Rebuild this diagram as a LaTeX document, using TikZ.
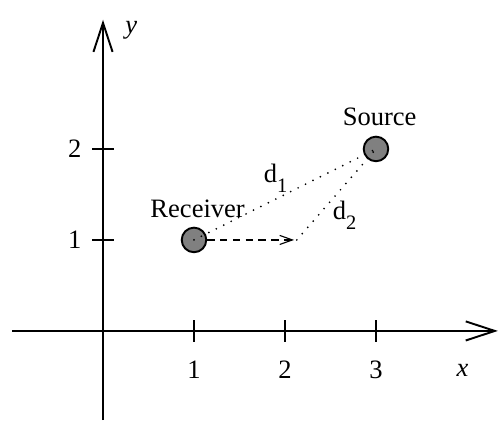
\documentclass[tikz,border=0pt]{standalone}
\usepackage{fontspec}
\setmainfont{Liberation Serif}
\usetikzlibrary{arrows.meta}
\tikzset{
  axis/.style={line width=0.6pt, -{Straight Barb[length=3.2mm,width=2.1mm]}},
  station/.style={circle, draw, line width=0.6pt, fill=black!50, minimum size=0.27cm, inner sep=0pt},
  dotline/.style={line width=0.6pt, line cap=round, dash pattern=on 0pt off 2.6pt},
  dasharrow/.style={line width=0.35pt, dash pattern=on 2.3pt off 1.7pt, -{Straight Barb[length=1.4mm,width=1mm]}},
  lbl/.style={inner sep=0pt, font=\fontsize{8.3}{10}\selectfont}
}
\newcommand{\sub}[1]{\raisebox{-3.1pt}{\fontsize{6.4}{7}\selectfont #1}}
\begin{document}
\begin{tikzpicture}
  \useasboundingbox (-1.132,-0.989) rectangle (4.352,3.637);
  \coordinate (xs) at (-1,0);
  \coordinate (xe) at (4.34,0);
  \coordinate (ys) at (0,-0.98);
  \coordinate (ye) at (0,3.42);
  \draw[axis] (xs) -- (xe);
  \draw[axis] (ys) -- (ye);
  \foreach \i in {1,2,3}
    \draw[line width=0.6pt] (\i,-0.12) -- (\i,0.12) node[lbl, anchor=center] at (\i,-0.43) {\i};
  \foreach \j in {1,2}
    \draw[line width=0.6pt] (-0.12,\j) -- (0.12,\j) node[lbl, anchor=center] at (-0.31,\j) {\j};
  \node[lbl] (xlbl) at (3.95,-0.43) {\textit{x}};
  \node[lbl] (ylbl) at (0.31,3.30) {\textit{y}};

  \node[station] (rcv) at (1,1) {};
  \node[station] (src) at (3,2) {};
  \node[lbl] (rcvlbl) at (1.04,1.34) {Receiver};
  \node[lbl] (srclbl) at (3.04,2.35) {Source};
  \coordinate (tip) at (2.1,1);

  \draw[dasharrow] (rcv) -- (tip);
  \draw[dotline] (rcv.center) -- (src.center);
  \draw[dotline] (tip) ++(0.03,0) -- (src.center);

  \node[lbl, anchor=base west] (dA) at (1.76,1.63) {d\sub{1}};
  \node[lbl, anchor=base west] (dB) at (2.52,1.22) {d\sub{2}};
\end{tikzpicture}
\end{document}
